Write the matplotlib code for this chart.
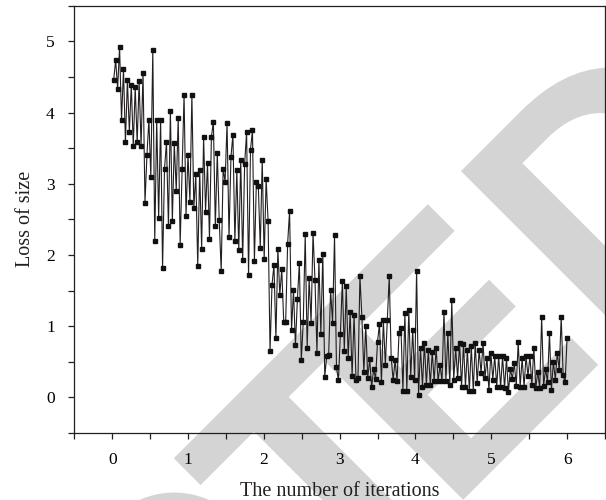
import numpy as np
import matplotlib

matplotlib.use("Agg")
import matplotlib.pyplot as plt
from matplotlib.font_manager import FontProperties
from matplotlib.patches import PathPatch
from matplotlib.textpath import TextPath
from matplotlib.ticker import MultipleLocator
from matplotlib.transforms import Affine2D, IdentityTransform

# 読み取った損失値（3区間に分けて記述）
loss_stage1 = [
    4.46, 4.74, 4.33, 4.92, 3.89, 4.61, 3.58, 4.46, 3.73, 4.39,
    3.53, 4.36, 3.58, 4.44, 3.53, 4.56, 2.73, 3.40, 3.90, 3.09,
    4.88, 2.19, 3.90, 2.52, 3.90, 1.81, 3.21, 3.59, 2.40, 4.02,
    2.47, 3.57, 2.90, 3.93, 2.14, 3.21, 4.25, 2.55, 3.41, 2.74,
    4.25, 2.66, 3.13, 1.84, 3.19, 2.09, 3.66, 2.61, 3.29, 2.23,
    3.66, 3.87, 2.40, 3.43, 2.49, 1.77, 3.21, 3.03, 3.85, 2.25,
    3.38, 3.69, 2.19, 3.19, 2.07, 3.33, 1.93, 3.28, 3.73, 1.72,
    3.48, 3.75, 1.91, 3.03, 2.97, 2.10, 3.34, 1.94, 3.07, 2.48,
]
loss_stage2 = [
    0.65, 1.58, 1.86, 0.83, 2.08, 1.44, 1.80, 1.06, 1.06, 2.16,
    2.62, 0.94, 1.51, 0.73, 1.38, 1.89, 0.52, 1.06, 2.29, 0.70,
    1.67, 1.05, 2.31, 1.65, 0.63, 1.93, 0.89, 2.02, 0.29, 0.58,
    0.60, 1.51, 1.04, 2.28, 0.42, 0.24, 0.89, 1.63, 0.65, 1.56,
    0.55, 1.20, 0.30, 1.16, 0.25, 0.27, 1.70, 1.13, 0.35, 1.00,
    0.27, 0.54, 0.14, 0.40, 0.26, 0.78, 1.03, 0.21, 1.08, 0.46,
    1.08, 1.70, 0.56, 0.24, 0.52, 0.23, 0.90, 0.97, 0.09, 1.18,
    0.09, 1.23, 0.29, 0.95, 0.24, 1.78, 0.04,
]
loss_stage3 = [
    0.70, 0.15, 0.77, 0.17, 0.67, 0.17, 0.64, 0.23, 0.70, 0.23,
    0.45, 0.23, 1.20, 0.23, 0.91, 0.17, 1.37, 0.25, 0.69, 0.27,
    0.77, 0.15, 0.75, 0.15, 0.67, 0.09, 0.72, 0.09, 0.77, 0.20,
    0.67, 0.34, 0.77, 0.27, 0.56, 0.10, 0.63, 0.25, 0.58, 0.15,
    0.58, 0.14, 0.58, 0.13, 0.55, 0.07, 0.40, 0.26, 0.48, 0.16,
    0.78, 0.15, 0.55, 0.15, 0.58, 0.30, 0.58, 0.17, 0.70, 0.13,
    0.36, 0.13, 1.13, 0.16, 0.40, 0.21, 0.91, 0.10, 0.50, 0.25,
    0.63, 0.38, 1.13, 0.31, 0.21, 0.83,
]
first_iteration = 0.02
last_iteration = 6.0

x_ticks = [0, 1, 2, 3, 4, 5, 6]
y_ticks = [0, 1, 2, 3, 4, 5]

loss = np.array(loss_stage1 + loss_stage2 + loss_stage3)
iterations = np.linspace(first_iteration, last_iteration, len(loss))

plt.rcParams["font.family"] = ["Liberation Serif", "DejaVu Serif"]

fig = plt.figure(figsize=(6.06, 5.0), dpi=100)
ax = fig.add_axes((0.1226, 0.134, 0.8757, 0.8546))
ax.set_facecolor("none")

# 背景の透かし文字（RETRACTED の一部）
wm_prop = FontProperties(family="Liberation Sans", weight="bold")
cap_height = TextPath((0, 0), "E", size=100, prop=wm_prop).get_extents().height
wm_scale = 234.0 / cap_height
# (文字, 基準, 基準位置[px, ベースライン方向])
wm_letters = [("C", "right", -200), ("T", "center", -101),
              ("E", "right", 165), ("D", "left", 205)]
for letter, anchor, pos in wm_letters:
    tp = TextPath((0, 0), letter, size=100, prop=wm_prop)
    ext = tp.get_extents()
    width = ext.width * wm_scale
    if anchor == "left":
        u0 = pos
    elif anchor == "right":
        u0 = pos - width
    else:
        u0 = pos - width / 2
    tr = (Affine2D().translate(-ext.x0, 0).scale(wm_scale)
          .translate(u0, 0).rotate_deg(45).translate(481.5, 18.5))
    patch = PathPatch(tr.transform_path(tp), facecolor="#d4d4d4",
                      edgecolor="none", zorder=-1,
                      transform=IdentityTransform())
    fig.add_artist(patch)

ax.plot(iterations, loss, color="#231f20", linewidth=0.8,
        marker="s", markersize=2.2, markerfacecolor="#111111",
        markeredgecolor="#111111")

ax.set_xlim(-0.5, 6.5)
ax.set_ylim(-0.5, 5.5)
ax.set_xticks(x_ticks)
ax.set_yticks(y_ticks)
ax.xaxis.set_minor_locator(MultipleLocator(0.5))
ax.yaxis.set_minor_locator(MultipleLocator(0.5))
ax.tick_params(which="both", direction="out", length=4.5, width=0.9,
               top=False, right=False, color="#231f20")
ax.tick_params(axis="x", which="major", labelsize=12.5, pad=9)
ax.tick_params(axis="y", which="major", labelsize=12.5, pad=9.5)
for spine in ax.spines.values():
    spine.set_linewidth(0.9)
    spine.set_color("#231f20")

ax.set_xlabel("The number of iterations", fontsize=14.5, labelpad=10,
              color="#231f20")
ax.set_ylabel("Loss of size", fontsize=14.5, labelpad=8, color="#231f20")

fig.savefig("out.png", dpi=100)
